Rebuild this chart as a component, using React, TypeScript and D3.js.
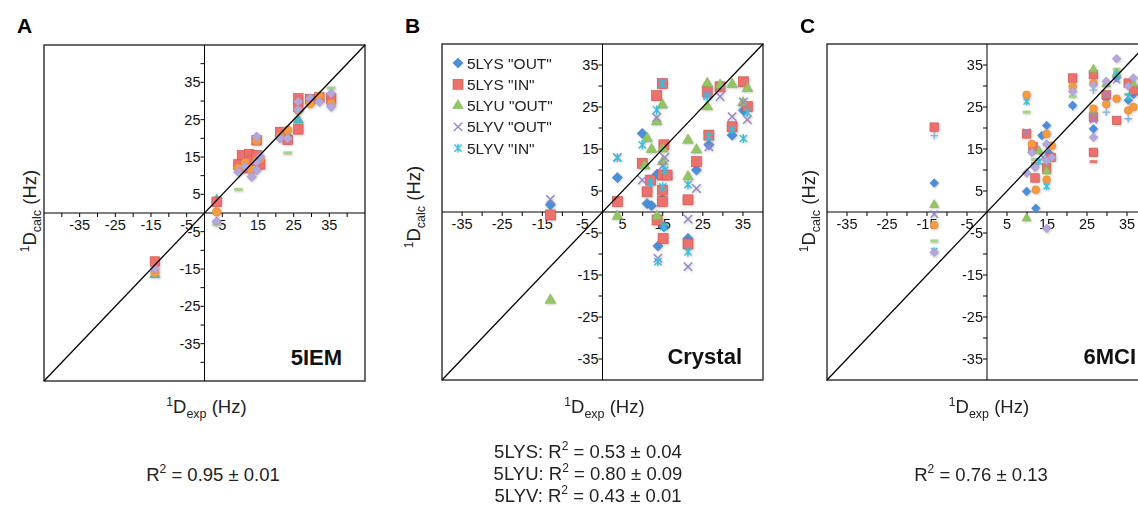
import * as d3 from 'd3';

type Pt = [number, number];

// ---------- panel A : 5IEM (exp, calc) ----------
const aSquares: Pt[] = [
  [-13.9, -13], [3.4, 3], [9.5, 13], [10.5, 15.5], [11.5, 12], [12.5, 15.8], [13.2, 14],
  [14.6, 15.5], [15.6, 13], [14.6, 19.5], [21.2, 21.7], [23.3, 19.6], [26.3, 30.7],
  [26.3, 28.4], [26.3, 22.4], [29.6, 30.5], [32.2, 31], [35.5, 30.7],
];
const aCircles: Pt[] = [
  [-13.9, -16], [3.4, 0.3], [9.5, 12], [11.4, 13.5], [13.2, 11.5], [14.6, 14], [15.6, 14.5],
  [14.6, 19.4], [21.2, 20.5], [23.3, 22.2], [26.3, 27.5], [29.6, 29.3], [32.2, 31.3], [35.5, 29.3],
];
const aDashes: Pt[] = [
  [-13.9, -13.5], [3.4, -3.1], [9.5, 6.3], [11, 13], [14.6, 18.5], [21.2, 21], [23.3, 16.1],
  [26.3, 24], [29.6, 29.5], [32.2, 30], [35.5, 33.5],
];
const aTriangles: Pt[] = [
  [-13.9, -16.5], [3.4, 3.5], [10.5, 13.5], [12.5, 12.5], [15, 14.5], [21.2, 21.5], [23.3, 21],
  [26.3, 24.9], [29.6, 30], [35.5, 30],
];
const aLavender: Pt[] = [
  [-13.9, -15], [3.4, -2.3], [9.5, 11], [11.4, 12.4], [13.2, 9.7], [14.6, 13.7], [14.6, 11.5],
  [15.6, 15.1], [14.6, 20.4], [21.2, 20], [23.3, 20], [26.3, 29.8], [26.3, 27.6], [29.6, 30.7],
  [32.2, 29.8], [35.5, 32], [35.5, 28.5],
];

// ---------- panel B : crystal structures ----------
const bLysOut: Pt[] = [
  [-13, 1.7], [3.7, 8.2], [9.9, 18.7], [11.1, 2], [12.2, 1.5], [13.6, 9], [14.9, 5], [14.9, 3],
  [15.3, -3.5], [13.8, -8.1], [21.3, -6.3], [23.4, 10], [26.5, 16], [32.3, 18.3], [35.1, 24.2],
  [15, 30.6],
];
const bLysIn: Pt[] = [
  [-13, -0.7], [3.7, 2.5], [9.9, 11.6], [11.1, 4.8], [12, 7.6], [13.5, 27.7], [14.9, 30.6],
  [15.3, 16], [14.9, 8.8], [14.9, 5.2], [14.9, 2.5], [16.1, 8.8], [13.6, -1.9], [15.1, -6.3],
  [21.3, 2.9], [21.3, -7.6], [23.4, 12], [26.5, 18.3], [26.1, 28.7], [29.3, 29.8], [32.3, 20.3],
  [35.1, 31], [36.1, 25.1],
];
const bLyuOut: Pt[] = [
  [-13, -21], [3.7, -1], [11.1, 17.5], [12.2, 14.9], [10.5, 11], [13.5, 21.5], [14.9, 25.5],
  [15, 15], [15, 12], [13.6, -1], [21.3, 17.1], [21.3, 8.4], [23.4, 14.8], [26.1, 30.6],
  [26.1, 25.1], [29.3, 30.2], [32.3, 30.4], [36.1, 29.4], [35, 26],
];
const bLyvOut: Pt[] = [
  [-13, 3], [3.7, 13], [9.9, 7.6], [13.5, 22.5], [14.9, 30.6], [15, 11], [15.5, 13], [21.3, -1.7],
  [21.3, -13], [13.8, -11], [23.4, 5.6], [26.5, 15.5], [29.3, 27.5], [32.3, 22.7], [35.1, 26.2],
  [36.1, 22], [26.1, 28],
];
const bLyvIn: Pt[] = [
  [3.7, 12.9], [9.9, 16], [13.5, 24.3], [14.9, 30.6], [12, 7], [15, 6], [15.5, 10], [15.3, -3.5],
  [13.8, -11.8], [21.3, -9.5], [21.3, 6.5], [26.5, 18], [26.1, 27.5], [32.3, 19.5], [35.1, 17.5],
  [36.1, 23.7],
];
const bLegend = ['5LYS "OUT"', '5LYS "IN"', '5LYU "OUT"', '5LYV "OUT"', '5LYV "IN"'];

// ---------- panel C : 6MCI ----------
const cDiamonds: Pt[] = [
  [-13.2, 6.9], [9.9, 4.9], [12.2, 0.9], [13.7, 18.2], [14.9, 20.6], [15.5, 14], [21.4, 25.4],
  [26.6, 19.8], [29.8, 27], [32.4, 32], [35.3, 26.6], [36.6, 28],
];
const cSquares: Pt[] = [
  [-13.2, 20.2], [9.9, 18.6], [12, 8.1], [11.5, 15.5], [14.9, 10.5], [16, 13], [21.4, 31.9],
  [26.6, 32.7], [26.6, 22.6], [26.6, 14.2], [29.8, 27.9], [32.4, 21.8], [35.3, 30.7], [36.6, 29],
];
const cTriangles: Pt[] = [
  [-13.2, 1.7], [9.9, -1.5], [14.9, 9.7], [13, 14.5], [26.6, 33.9], [29.8, 30.5], [32.4, 33], [36.6, 30.5],
];
const cTimes: Pt[] = [[-13.2, -0.5], [9.9, 19], [14, 13], [29.8, 27.9], [32.4, 31.5], [26.6, 22]];
const cAsterisks: Pt[] = [
  [-13.2, -9.3], [9.9, 26.3], [14.9, 6.1], [13, 12], [26.6, 24], [32.4, 32.7], [35.3, 27.5],
];
const cPlus: Pt[] = [[-13.2, 18.2], [21.4, 25], [29.8, 23.8], [35.3, 22.2], [26.6, 29], [14.9, 16]];
const cGreenDash: Pt[] = [
  [-13.2, -6.9], [9.9, 23.8], [12, 12.5], [15, 11], [21.4, 27.5], [26.6, 23.8], [29.8, 30],
  [32.4, 34], [35.3, 28],
];
const cRedDash: Pt[] = [[26.6, 12], [12, 11.5]];
const cCircles: Pt[] = [
  [-13.2, -3.1], [9.9, 27.9], [11.2, 16.2], [12.2, 5.3], [14.9, 18.6], [14.9, 7.7], [16.2, 15.8],
  [21.4, 29.9], [26.6, 30.7], [26.6, 24.6], [29.8, 25.7], [32.4, 27], [35.3, 24.2], [36.6, 25],
];
const cLavender: Pt[] = [
  [-13.2, -9.6], [9.9, 9.3], [11.2, 14.2], [12, 10.6], [14.9, 16.2], [14.9, 12.2], [16.2, 13],
  [14.9, -3.9], [21.4, 28.7], [26.6, 30.3], [26.6, 17.8], [29.8, 31.1], [32.4, 36.5], [35.3, 30],
  [36.6, 31.9],
];

const tickLabels = [-35, -25, -15, -5, 5, 15, 25, 35];
const statsA = [['', '0.95 ± 0.01']];
const statsB = [['5LYS: ', '0.53 ± 0.04'], ['5LYU: ', '0.80 ± 0.09'], ['5LYV: ', '0.43 ± 0.01']];
const statsC = [['', '0.76 ± 0.13']];

const STY: Record<string, { fill: string; stroke: string }> = {
  diamond: { fill: '#4b8fd8', stroke: '#3b79c2' },
  square: { fill: '#ec716d', stroke: '#c9534f' },
  triangle: { fill: '#93c564', stroke: '#7eae50' },
  teal: { fill: '#4fb6c8', stroke: '#3e9fb0' },
  times: { fill: 'none', stroke: '#9886c7' },
  asterisk: { fill: 'none', stroke: '#36c0dc' },
  circle: { fill: '#f69b40', stroke: '#df842c' },
  lavender: { fill: '#b5a7da', stroke: '#9d8fc6' },
  plus: { fill: 'none', stroke: '#86b0e4' },
  dashG: { fill: '#a9d28c', stroke: 'none' },
  dashR: { fill: '#e07a76', stroke: 'none' },
};

function Marker({ kind, cx, cy, s }: { kind: string; cx: number; cy: number; s: number }) {
  const st = STY[kind];
  const t = `translate(${cx},${cy})`;
  const sym = (type: d3.SymbolType, area: number) => d3.symbol().type(type).size(area)() as string;
  switch (kind) {
    case 'square':
      return <rect x={cx - s / 2} y={cy - s / 2} width={s} height={s} fill={st.fill} stroke={st.stroke} strokeWidth={0.6} />;
    case 'diamond':
    case 'lavender':
      return <rect x={-s * 0.36} y={-s * 0.36} width={s * 0.72} height={s * 0.72} transform={`${t} rotate(45)`} fill={st.fill} stroke={st.stroke} strokeWidth={0.5} />;
    case 'triangle':
    case 'teal':
      return <path d={sym(d3.symbolTriangle, s * s * 0.5)} transform={t} fill={st.fill} stroke={st.stroke} strokeWidth={0.5} />;
    case 'circle':
      return <circle cx={cx} cy={cy} r={s * 0.46} fill={st.fill} stroke={st.stroke} strokeWidth={0.5} />;
    case 'times': {
      const r = s * 0.42;
      return <path d={`M${-r},${-r}L${r},${r}M${-r},${r}L${r},${-r}`} transform={t} stroke={st.stroke} strokeWidth={1.4} fill="none" />;
    }
    case 'asterisk': {
      const r = s * 0.45, q = r * 0.8;
      return <path d={`M${-q},${-q}L${q},${q}M${-q},${q}L${q},${-q}M0,${-r}L0,${r}`} transform={t} stroke={st.stroke} strokeWidth={1.4} fill="none" />;
    }
    case 'plus': {
      const r = s * 0.45;
      return <path d={`M${-r},0L${r},0M0,${-r}L0,${r}`} transform={t} stroke={st.stroke} strokeWidth={1.3} fill="none" />;
    }
    default:
      return <rect x={cx - s * 0.45} y={cy - 1.5} width={s * 0.9} height={3} fill={st.fill} />;
  }
}

type Series = { kind: string; pts: Pt[] };
type PanelCfg = {
  letter: string; letterX: number; left: number; top: number; w: number; h: number; lim: number;
  ms: number; series: Series[]; name: string; nameRight: number; yTitleX: number; yTitleY: number;
  stats: string[][]; statsX: number; statsY: number; legend?: string[];
};

const panels: PanelCfg[] = [
  {
    letter: 'A', letterX: 17, left: 44, top: 45, w: 321, h: 336, lim: 45, ms: 9.5,
    series: [
      { kind: 'dashG', pts: aDashes }, { kind: 'teal', pts: aTriangles }, { kind: 'square', pts: aSquares },
      { kind: 'circle', pts: aCircles }, { kind: 'lavender', pts: aLavender },
    ],
    name: '5IEM', nameRight: 342, yTitleX: 30, yTitleY: 211, stats: statsA, statsX: 213, statsY: 481,
  },
  {
    letter: 'B', letterX: 405, left: 442, top: 44, w: 321, h: 336, lim: 40, ms: 10,
    series: [
      { kind: 'diamond', pts: bLysOut }, { kind: 'square', pts: bLysIn }, { kind: 'triangle', pts: bLyuOut },
      { kind: 'times', pts: bLyvOut }, { kind: 'asterisk', pts: bLyvIn },
    ],
    name: 'Crystal', nameRight: 742, yTitleX: 414, yTitleY: 207, stats: statsB, statsX: 588, statsY: 458,
    legend: bLegend,
  },
  {
    letter: 'C', letterX: 800, left: 827, top: 44, w: 320, h: 336, lim: 40, ms: 8.5,
    series: [
      { kind: 'dashG', pts: cGreenDash }, { kind: 'dashR', pts: cRedDash }, { kind: 'plus', pts: cPlus },
      { kind: 'diamond', pts: cDiamonds }, { kind: 'square', pts: cSquares }, { kind: 'triangle', pts: cTriangles },
      { kind: 'times', pts: cTimes }, { kind: 'asterisk', pts: cAsterisks }, { kind: 'circle', pts: cCircles },
      { kind: 'lavender', pts: cLavender },
    ],
    name: '6MCI', nameRight: 1136, yTitleX: 809, yTitleY: 211, stats: statsC, statsX: 981, statsY: 481,
  },
];

const FONT = 'Liberation Sans, Arial, Helvetica, sans-serif';

function Panel({ p }: { p: PanelCfg }) {
  const x = d3.scaleLinear().domain([-p.lim, p.lim]).range([p.left, p.left + p.w]);
  const y = d3.scaleLinear().domain([-p.lim, p.lim]).range([p.top + p.h, p.top]);
  const x0 = x(0), y0 = y(0);
  const ticks = d3.range(-p.lim + 5, p.lim, 5).filter((v) => v !== 0);
  const clipId = `clip-${p.letter}`;
  return (
    <g fontFamily={FONT}>
      <defs>
        <clipPath id={clipId}>
          <rect x={p.left} y={p.top} width={p.w} height={p.h} />
        </clipPath>
      </defs>
      <text x={p.letterX} y={33} fontSize={21} fontWeight="bold" fill="#000">{p.letter}</text>
      <rect x={p.left} y={p.top} width={p.w} height={p.h} fill="#fff" stroke="#3a3a3a" strokeWidth={1.5} />
      <line x1={x0} x2={x0} y1={p.top} y2={p.top + p.h} stroke="#000" strokeWidth={1} />
      <line x1={p.left} x2={p.left + p.w} y1={y0} y2={y0} stroke="#000" strokeWidth={1} />
      {ticks.map((v) => (
        <g key={'t' + v}>
          <line x1={x(v)} x2={x(v)} y1={y0} y2={y0 + 4} stroke="#000" />
          <line x1={x0 - 4} x2={x0} y1={y(v)} y2={y(v)} stroke="#000" />
        </g>
      ))}
      {tickLabels.map((v) => (
        <g key={'l' + v} fontSize={14.5} fill="#111">
          <text x={x(v)} y={y0 + 17} textAnchor="middle">{v}</text>
          <text x={x0 - 4} y={y(v) + 5} textAnchor="end">{v}</text>
        </g>
      ))}
      <g clipPath={`url(#${clipId})`}>
        <g filter="url(#soft)">
          {p.series.map((s, i) => (
            <g key={'s' + i}>
              {s.pts.map((d, j) => (
                <Marker key={j} kind={s.kind} cx={x(d[0])} cy={y(d[1])} s={p.ms} />
              ))}
            </g>
          ))}
        </g>
      </g>
      <line x1={x(-p.lim)} y1={y(-p.lim)} x2={x(p.lim)} y2={y(p.lim)} stroke="#000" strokeWidth={1.3} />
      {p.legend && p.legend.map((lab, i) => (
        <g key={'lg' + i}>
          <Marker kind={p.series[i].kind} cx={p.left + 16} cy={p.top + 19 + i * 21.3} s={10} />
          <text x={p.left + 25} y={p.top + 24.5 + i * 21.3} fontSize={15.5} fill="#222">{lab}</text>
        </g>
      ))}
      <text x={p.nameRight} y={p.top + p.h - 16} textAnchor="end" fontSize={22} fontWeight="bold" fill="#111">{p.name}</text>
      <text transform={`translate(${p.yTitleX + 6},${p.yTitleY}) rotate(-90)`} textAnchor="middle" fontSize={18.5} fill="#222">
        <tspan fontSize={12} dy={-7}>1</tspan>
        <tspan dy={7}>D</tspan>
        <tspan fontSize={12.5} dy={5}>calc</tspan>
        <tspan dy={-5}> (Hz)</tspan>
      </text>
      <text x={p.left + p.w / 2 + 2} y={413} textAnchor="middle" fontSize={18.5} fill="#222">
        <tspan fontSize={12} dy={-7}>1</tspan>
        <tspan dy={7}>D</tspan>
        <tspan fontSize={12.5} dy={5}>exp</tspan>
        <tspan dy={-5}> (Hz)</tspan>
      </text>
      {p.stats.map((st, i) => (
        <text key={'r' + i} x={p.statsX} y={p.statsY + i * 22} textAnchor="middle" fontSize={18.5} fill="#222">
          {st[0]}R
          <tspan fontSize={12} dy={-8}>2</tspan>
          <tspan dy={8}> = {st[1]}</tspan>
        </text>
      ))}
    </g>
  );
}

export default function App() {
  return (
    <svg width={1138} height={505} style={{ position: 'absolute', left: 0, top: 0, background: '#fff' }}>
      <defs>
        <filter id="soft" x="-20%" y="-20%" width="140%" height="140%">
          <feDropShadow dx={0.8} dy={0.8} stdDeviation={0.9} floodColor="#777" floodOpacity={0.45} />
        </filter>
      </defs>
      <rect width={1138} height={505} fill="#fff" />
      {panels.map((p) => (
        <Panel key={p.letter} p={p} />
      ))}
    </svg>
  );
}
